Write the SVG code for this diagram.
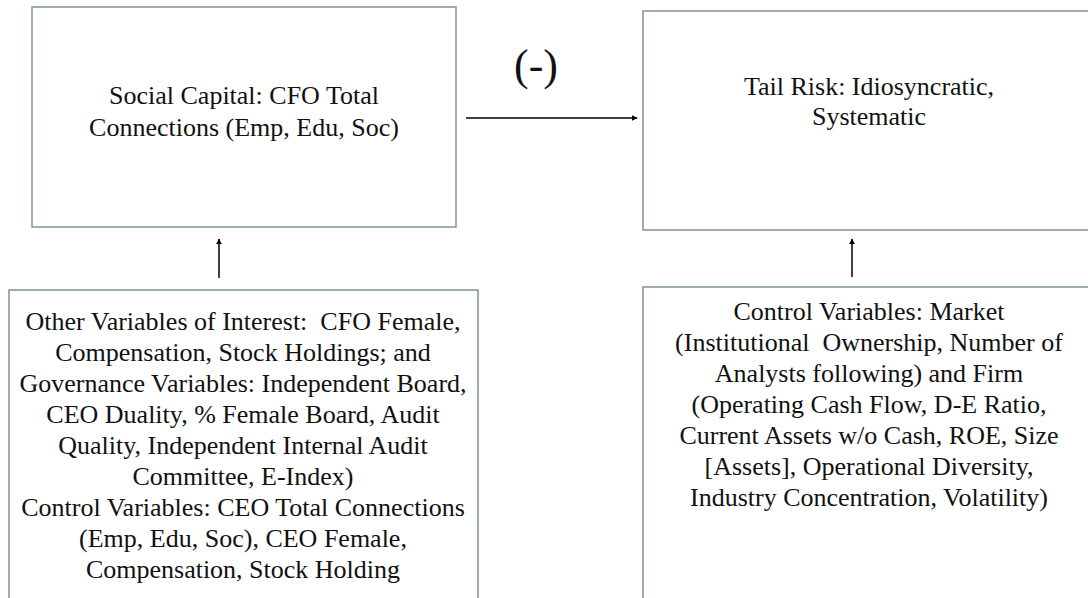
<svg xmlns="http://www.w3.org/2000/svg" width="1088" height="598" viewBox="0 0 1088 598">
  <style>
    .box { fill: #ffffff; stroke: #7d9399; stroke-width: 1.5; }
    .t { font-family: 'Liberation Serif', 'DejaVu Serif', serif; font-size: 26px; fill: #111111; text-anchor: middle; white-space: pre; }
    .big { font-size: 44px; }
    .conn { stroke: #000000; stroke-width: 1.5; fill: none; marker-end: url(#arrow); }
  </style>
  <defs>
    <marker id="arrow" viewBox="0 0 10 10" refX="9" refY="5" markerWidth="6" markerHeight="6" markerUnits="userSpaceOnUse" orient="auto">
      <path d="M0,0 L10,5 L0,10 z" fill="#000000"/>
    </marker>
  </defs>
  <rect width="1088" height="598" fill="#ffffff"/>

  <g id="social-capital" font-family="Liberation Serif">
    <rect class="box" x="32" y="7" width="424" height="220"/>
    <text class="t" x="244" y="104">Social Capital: CFO Total</text>
    <text class="t" x="244" y="136">Connections (Emp, Edu, Soc)</text>
  </g>

  <g id="tail-risk" font-family="Liberation Serif">
    <rect class="box" x="643" y="11" width="455" height="219"/>
    <text class="t" x="869" y="95">Tail Risk: Idiosyncratic,</text>
    <text class="t" x="869" y="125">Systematic</text>
  </g>

  <g id="other-variables" font-family="Liberation Serif">
    <rect class="box" x="9" y="290" width="469" height="320"/>
    <text class="t" x="243" y="330">Other Variables of Interest:  CFO Female,</text>
    <text class="t" x="243" y="361">Compensation, Stock Holdings; and</text>
    <text class="t" x="243" y="392">Governance Variables: Independent Board,</text>
    <text class="t" x="243" y="423">CEO Duality, % Female Board, Audit</text>
    <text class="t" x="243" y="454">Quality, Independent Internal Audit</text>
    <text class="t" x="243" y="485">Committee, E-Index)</text>
    <text class="t" x="243" y="516">Control Variables: CEO Total Connections</text>
    <text class="t" x="243" y="547">(Emp, Edu, Soc), CEO Female,</text>
    <text class="t" x="243" y="578">Compensation, Stock Holding</text>
  </g>

  <g id="control-variables" font-family="Liberation Serif">
    <rect class="box" x="643" y="287" width="455" height="320"/>
    <text class="t" x="869" y="320">Control Variables: Market</text>
    <text class="t" x="869" y="351">(Institutional  Ownership, Number of</text>
    <text class="t" x="869" y="382">Analysts following) and Firm</text>
    <text class="t" x="869" y="413">(Operating Cash Flow, D-E Ratio,</text>
    <text class="t" x="869" y="444">Current Assets w/o Cash, ROE, Size</text>
    <text class="t" x="869" y="475">[Assets], Operational Diversity,</text>
    <text class="t" x="869" y="506">Industry Concentration, Volatility)</text>
  </g>

  <g id="connectors">
    <line class="conn" x1="466" y1="118" x2="637" y2="118"/>
    <text class="t big" x="536" y="80">(-)</text>
    <line class="conn" x1="219" y1="278" x2="219" y2="239"/>
    <line class="conn" x1="852" y1="277" x2="852" y2="239"/>
  </g>
</svg>
